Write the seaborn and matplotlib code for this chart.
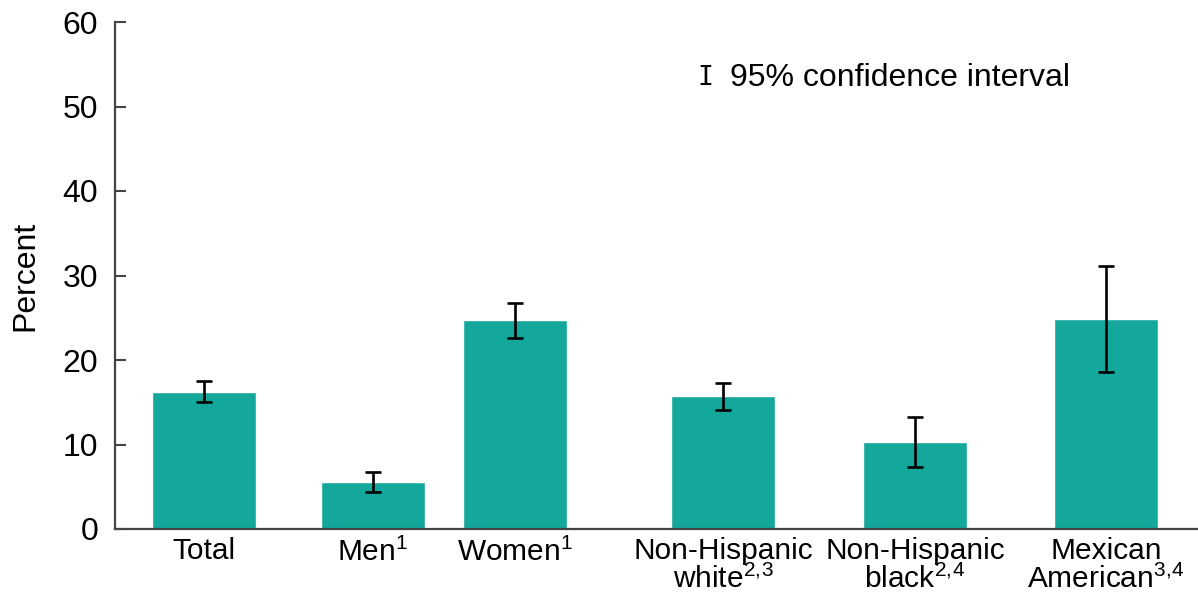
import numpy as np
import pandas as pd
import seaborn as sns
import matplotlib.pyplot as plt

# data
groups = ["Total", "Men$^{1}$", "Women$^{1}$", "Non-Hispanic\nwhite$^{2,\\!3}$",
          "Non-Hispanic\nblack$^{2,\\!4}$", "Mexican\nAmerican$^{3,\\!4}$"]
percent = [16.2, 5.6, 24.7, 15.7, 10.3, 24.9]
ci_low = [15.0, 4.4, 22.6, 14.1, 7.3, 18.6]
ci_high = [17.5, 6.8, 26.8, 17.3, 13.3, 31.1]

# layout: bar centres on the x axis (uneven spacing between groups)
x_pos = [2.04, 3.73, 5.15, 7.23, 9.15, 11.06]
bar_w = 1.04

sns.set_style("white")
plt.rcParams['font.family'] = ['Liberation Sans', 'DejaVu Sans']
plt.rcParams['mathtext.fontset'] = 'custom'
plt.rcParams['mathtext.rm'] = 'Liberation Sans'
plt.rcParams['mathtext.it'] = 'Liberation Sans'
plt.rcParams['text.color'] = 'black'
plt.rcParams['xtick.color'] = 'black'
plt.rcParams['ytick.color'] = 'black'
plt.rcParams['axes.labelcolor'] = 'black'

df = pd.DataFrame({"x": x_pos, "percent": percent})

fig = plt.figure(figsize=(11.98, 6.01), dpi=100)
ax = fig.add_axes([115 / 1198, 72 / 601, 1 - 115 / 1198, 507 / 601])

min_gap = np.min(np.diff(x_pos))
sns.barplot(data=df, x="x", y="percent", native_scale=True, color="#14a89c",
            saturation=1, width=bar_w / min_gap, errorbar=None, ax=ax)

err = [np.array(percent) - np.array(ci_low), np.array(ci_high) - np.array(percent)]
ax.errorbar(x_pos, percent, yerr=err, fmt="none", ecolor="black",
            elinewidth=1.9, capsize=6, capthick=1.9)

ax.set_xlim(1.15, 11.98)
ax.set_ylim(0, 60)
ax.set_yticks(range(0, 61, 10))
ax.set_xticks(x_pos)
ax.set_xticklabels(groups, fontsize=21.5, linespacing=0.98)
ax.tick_params(axis="y", labelsize=23, direction="in", length=8, width=1.5,
               color="#444444", labelcolor="black", pad=12, left=True)
ax.tick_params(axis="x", length=0, pad=6)
ax.set_xlabel("")
ax.set_ylabel("Percent", fontsize=23, labelpad=16)

for side in ["top", "right"]:
    ax.spines[side].set_visible(False)
for side in ["left", "bottom"]:
    ax.spines[side].set_color("#444444")
    ax.spines[side].set_linewidth(1.6)

# legend for the error bars
ax.text(0.5455, 0.89, "I", transform=ax.transAxes, fontsize=19,
        family="DejaVu Sans Mono", va="center", ha="center")
ax.text(0.568, 0.89, "95% confidence interval", transform=ax.transAxes,
        fontsize=23, va="center", ha="left")

fig.savefig("out.png", dpi=100)
